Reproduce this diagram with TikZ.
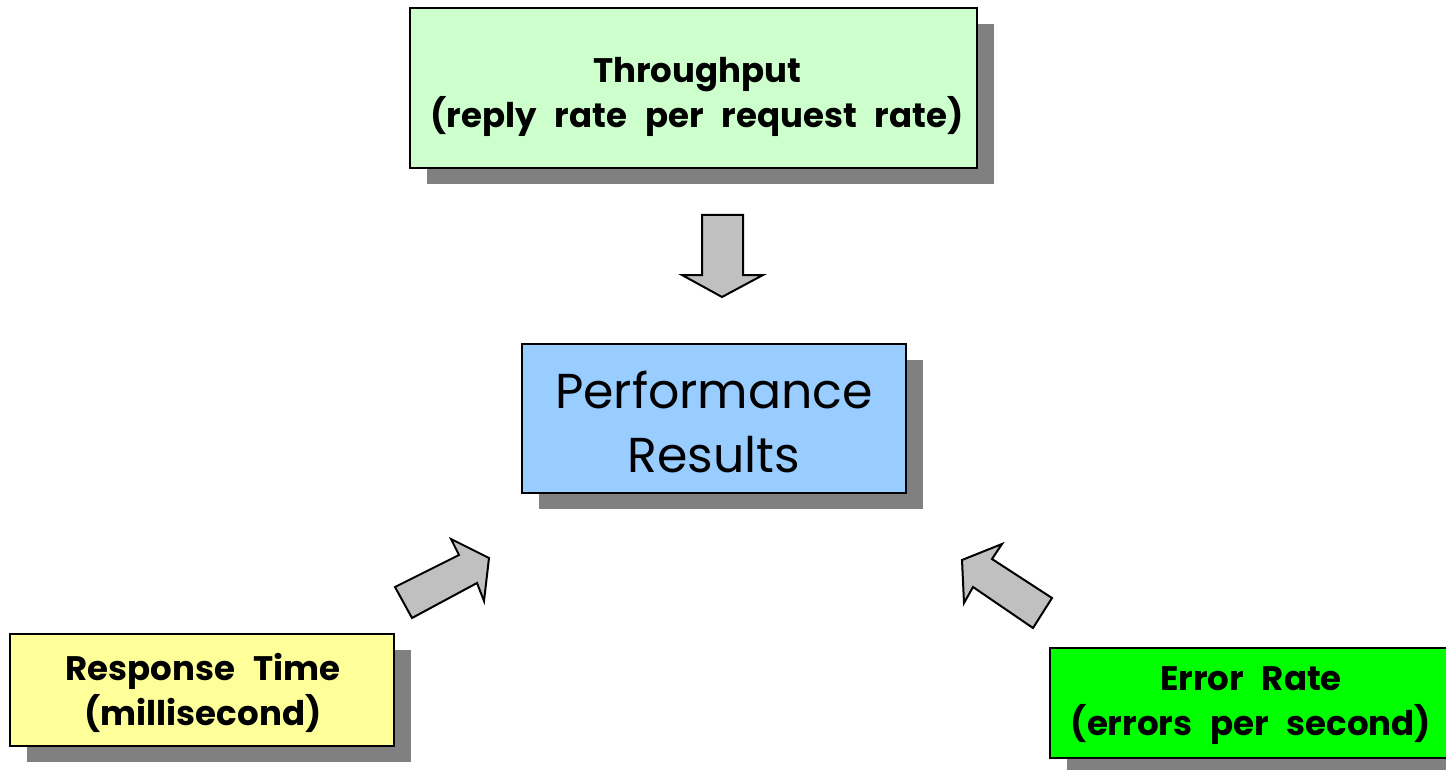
\documentclass[tikz,border=0pt]{standalone}
\usepackage{fontspec}
\setmainfont{Poppins}
\usetikzlibrary{shadows}
\definecolor{tpgreen}{HTML}{CCFFCC}
\definecolor{perfblue}{HTML}{99CCFF}
\definecolor{rtyellow}{HTML}{FFFF99}
\definecolor{ergreen}{HTML}{00FF00}
\definecolor{shadowgray}{HTML}{808080}
\definecolor{arrowgray}{HTML}{C0C0C0}
\newcommand{\mysmallfont}{\fontsize{34}{45}\selectfont\bfseries\spaceskip=18pt\relax}
\begin{document}
\begin{tikzpicture}[x=1pt,y=-1pt,
  box/.style={draw=black, line width=2pt, inner sep=0pt, align=center,
    drop shadow={shadow xshift=17pt, shadow yshift=-16pt, fill=shadowgray, opacity=1}},
  smalltext/.style={font=\mysmallfont},
  bigtext/.style={font=\fontsize{49}{64}\selectfont},
  blockarrow/.style={draw=black, line width=2pt, fill=arrowgray, line join=miter}]
\useasboundingbox (0,0) rectangle (1446,770);
\clip (0,0) rectangle (1446,770);
\node[box, fill=tpgreen, minimum width=567pt, minimum height=160pt] (tp) at (693.5,88) {};
\node[smalltext, align=center] (tpt) at (697,97) {Throughput\\(reply rate per request rate)};
\node[box, fill=perfblue, minimum width=384pt, minimum height=149pt] (perf) at (714,418.5) {};
\node[bigtext, align=center] (perft) at (714,422) {Performance\\Results};
\node[box, fill=rtyellow, minimum width=384pt, minimum height=112pt] (rt) at (202,690) {};
\node[smalltext, align=center] (rtt) at (203,693) {Response Time\\(millisecond)};
\node[box, fill=ergreen, minimum width=410pt, minimum height=110pt] (er) at (1255,703) {};
\node[smalltext, align=center] (ert) at (1251,706) {Error Rate\\(errors per second)};
% block arrows
\draw[blockarrow] (702,215) -- (743,215) -- (743,275) -- (763,275) -- (722,297) -- (682,275) -- (702,275) -- cycle;
\draw[blockarrow] (412,618) -- (395,587) -- (459,555) -- (451,539) -- (489,558) -- (484,601) -- (477,583) -- cycle;
\draw[blockarrow] (962,560) -- (1002,544) -- (992,559) -- (1052,598) -- (1033,628) -- (973,587) -- (964,603) -- cycle;
\end{tikzpicture}
\end{document}
